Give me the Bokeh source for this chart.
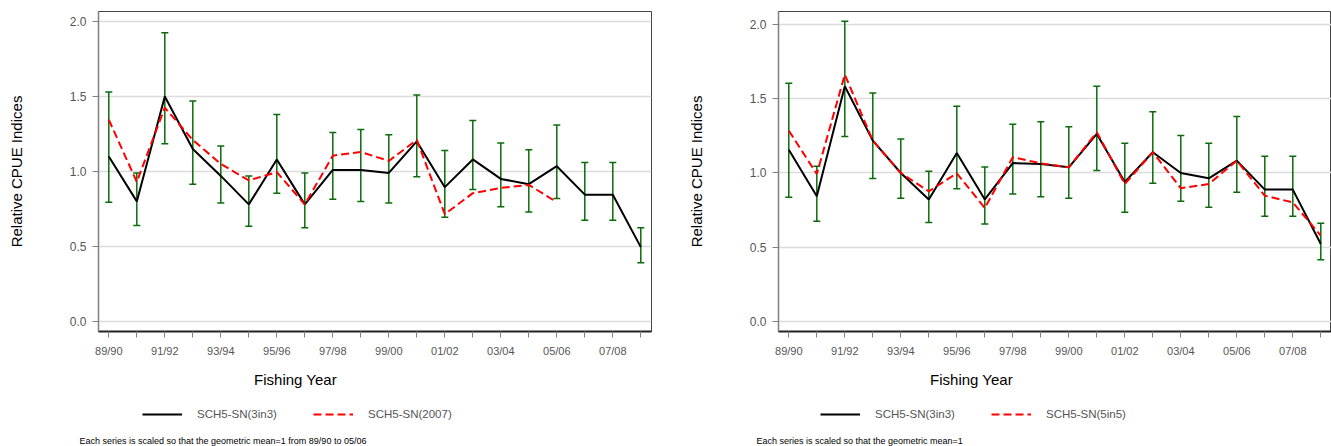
from bokeh.plotting import figure
from bokeh.layouts import row, column
from bokeh.models import (ColumnDataSource, Whisker, TeeHead, FixedTicker, Range1d,
                          Legend, LegendItem, Label)
from bokeh.embed import file_html
from bokeh.resources import INLINE

# ---------------- data ----------------
years = ["89/90", "90/91", "91/92", "92/93", "93/94", "94/95", "95/96", "96/97",
         "97/98", "98/99", "99/00", "00/01", "01/02", "02/03", "03/04", "04/05",
         "05/06", "06/07", "07/08", "08/09"]

# Left panel
left_3in3 = [1.10, 0.80, 1.50, 1.15, 0.97, 0.78, 1.08, 0.78, 1.01, 1.01,
             0.99, 1.20, 0.895, 1.08, 0.95, 0.915, 1.035, 0.845, 0.845, 0.495]
left_2007 = [1.345, 0.93, 1.425, 1.21, 1.05, 0.94, 0.995, 0.78, 1.105, 1.13,
             1.07, 1.21, 0.715, 0.855, 0.89, 0.91, 0.795]
left_upper = [1.53, 0.99, 1.925, 1.47, 1.17, 0.97, 1.38, 0.99, 1.26, 1.28,
              1.245, 1.51, 1.14, 1.34, 1.19, 1.145, 1.31, 1.06, 1.06, 0.625]
left_lower = [0.795, 0.64, 1.185, 0.915, 0.79, 0.635, 0.855, 0.625, 0.815, 0.80,
              0.79, 0.965, 0.695, 0.88, 0.765, 0.73, 0.82, 0.675, 0.675, 0.39]

# Right panel
right_3in3 = [1.157, 0.843, 1.584, 1.218, 1.0, 0.822, 1.135, 0.822, 1.067, 1.06,
              1.038, 1.263, 0.94, 1.14, 1.0, 0.964, 1.083, 0.888, 0.888, 0.521]
right_5in5 = [1.285, 0.993, 1.663, 1.218, 1.0, 0.876, 0.998, 0.764, 1.106, 1.065,
              1.038, 1.274, 0.926, 1.14, 0.897, 0.926, 1.083, 0.847, 0.802, 0.578]
right_upper = [1.604, 1.045, 2.022, 1.539, 1.229, 1.011, 1.449, 1.040, 1.328, 1.346,
               1.312, 1.584, 1.20, 1.413, 1.252, 1.20, 1.380, 1.112, 1.112, 0.661]
right_lower = [0.836, 0.674, 1.245, 0.962, 0.829, 0.667, 0.894, 0.656, 0.858, 0.840,
               0.829, 1.016, 0.735, 0.930, 0.809, 0.769, 0.870, 0.708, 0.708, 0.416]

y_ticks = [0.0, 0.5, 1.0, 1.5, 2.0]

GREEN = "#0b6b0b"
RED = "#ff0000"
DASH = "8 4"
SANS = "'Liberation Sans', Arial, sans-serif"

MAIN_H = 362
FOOT_H = 446 - MAIN_H


def make_panel(width, border_left, border_right, y_end, black, red, upper, lower):
    idx = list(range(len(years)))
    p = figure(width=width, height=MAIN_H, output_backend="svg", toolbar_location=None,
               x_range=Range1d(-0.368, len(years) - 1 + 0.382),
               y_range=Range1d(-0.068, y_end),
               min_border_left=border_left, min_border_right=border_right,
               min_border_top=11, min_border_bottom=MAIN_H - 331,
               frame_align=False)
    p.background_fill_color = "white"
    p.border_fill_color = "white"
    p.outline_line_color = "#444444"
    p.outline_line_width = 1

    p.xgrid.grid_line_color = None
    p.ygrid.grid_line_color = "#dcdcdc"
    p.ygrid.grid_line_width = 1.5
    p.ygrid.ticker = FixedTicker(ticks=y_ticks)

    p.yaxis.ticker = FixedTicker(ticks=y_ticks)
    p.yaxis.major_label_overrides = {t: f"{t:.1f}" for t in y_ticks}
    p.yaxis.axis_line_color = "#808080"
    p.yaxis.axis_line_width = 1.5
    p.yaxis.major_tick_line_color = "#808080"
    p.yaxis.major_tick_out = 6
    p.yaxis.major_tick_in = 0
    p.yaxis.minor_tick_line_color = None
    p.yaxis.major_label_text_font = SANS
    p.yaxis.major_label_text_font_size = "12px"
    p.yaxis.major_label_text_color = "#555555"
    p.yaxis.major_label_standoff = 6
    p.yaxis.axis_label = "Relative CPUE Indices"
    p.yaxis.axis_label_text_font = SANS
    p.yaxis.axis_label_text_font_size = "15px"
    p.yaxis.axis_label_text_font_style = "normal"
    p.yaxis.axis_label_text_color = "black"
    p.yaxis.axis_label_standoff = 42

    p.xaxis.ticker = FixedTicker(ticks=idx)
    p.xaxis.major_label_overrides = {i: (years[i] if i % 2 == 0 else "") for i in idx}
    p.xaxis.axis_line_color = "#222222"
    p.xaxis.axis_line_width = 2
    p.xaxis.major_tick_line_color = "#808080"
    p.xaxis.major_tick_out = 6
    p.xaxis.major_tick_in = 0
    p.xaxis.minor_tick_line_color = None
    p.xaxis.major_label_text_font = SANS
    p.xaxis.major_label_text_font_size = "11px"
    p.xaxis.major_label_text_color = "#555555"
    p.xaxis.major_label_standoff = 7

    src = ColumnDataSource(dict(x=idx, upper=upper, lower=lower))
    w = Whisker(base="x", upper="upper", lower="lower", source=src,
                line_color=GREEN, line_width=1.5, level="underlay",
                upper_head=TeeHead(size=7, line_color=GREEN, line_width=1.5),
                lower_head=TeeHead(size=7, line_color=GREEN, line_width=1.5))
    p.add_layout(w)

    p.line(idx[:len(black)], black, line_color="black", line_width=2)
    p.line(idx[:len(red)], red, line_color=RED, line_width=2, line_dash=DASH)
    return p


def make_footer(width, red_label, note, xlabel_x, legend_x, note_x):
    f = figure(width=width, height=FOOT_H, output_backend="svg", toolbar_location=None,
               x_axis_type=None, y_axis_type=None,
               x_range=Range1d(0, 1), y_range=Range1d(0, 1),
               min_border_left=0, min_border_right=0, min_border_top=0,
               min_border_bottom=0, frame_align=False)
    f.outline_line_color = None
    f.xgrid.grid_line_color = None
    f.ygrid.grid_line_color = None
    f.background_fill_color = "white"
    f.border_fill_color = "white"

    # legend proxies (no visible data of their own)
    nan = float("nan")
    rb = f.line([nan], [nan], line_color="black", line_width=2)
    rr = f.line([nan], [nan], line_color=RED, line_width=2, line_dash=DASH)

    f.add_layout(Label(x=xlabel_x, y=446 - 379, x_units="screen", y_units="screen",
                       text="Fishing Year", text_align="center",
                       text_baseline="middle", text_font=SANS,
                       text_font_size="15px", text_color="black"))

    legend = Legend(items=[LegendItem(label="SCH5-SN(3in3)", renderers=[rb]),
                           LegendItem(label=red_label, renderers=[rr])],
                    location=(legend_x, 446 - 422), orientation="horizontal",
                    glyph_width=40, glyph_height=16, label_height=16,
                    label_width=100, spacing=16, label_standoff=15,
                    padding=0, margin=0, border_line_color=None,
                    background_fill_alpha=0,
                    label_text_font=SANS, label_text_font_size="11.5px",
                    label_text_color="#555555")
    f.add_layout(legend, "center")

    f.add_layout(Label(x=note_x, y=446 - 440, x_units="screen", y_units="screen",
                       text=note, text_align="left", text_baseline="middle",
                       text_font=SANS, text_font_size="9px", text_color="black"))
    return f


left = make_panel(665, 98, 14, 2.067, left_3in3, left_2007, left_upper, left_lower)
right = make_panel(666, 113, 0, 2.088, right_3in3, right_5in5, right_upper, right_lower)

left_foot = make_footer(665, "SCH5-SN(2007)",
                        "Each series is scaled so that the geometric mean=1 from  89/90 to 05/06",
                        295, 142, 79)
right_foot = make_footer(666, "SCH5-SN(5in5)",
                         "Each series is scaled so that the geometric mean=1",
                         306, 155, 91)

layout = row(column(left, left_foot, spacing=0), column(right, right_foot, spacing=0),
             spacing=0)
open("out.html", "w").write(file_html(layout, INLINE))
